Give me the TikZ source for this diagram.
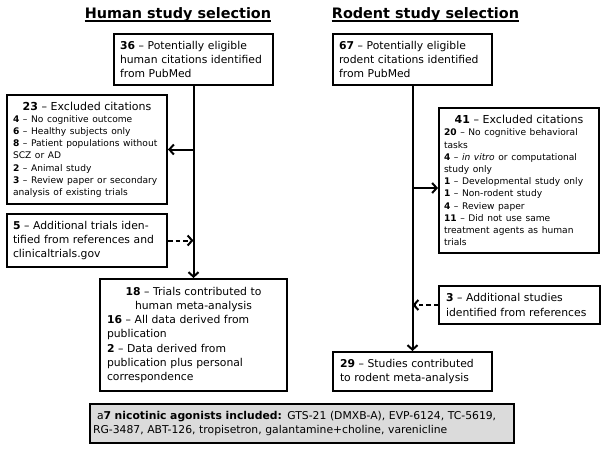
\documentclass[tikz,border=0pt]{standalone}
\usepackage{fontspec}
\setmainfont{DejaVu Sans}
\usetikzlibrary{arrows.meta}
\newcommand{\listsize}{\fontsize{9.1}{12.2}\selectfont}
\newcommand{\headsize}{\fontsize{11}{13.4}\selectfont}
\tikzset{
  box/.style={draw, line width=2pt, anchor=north west, inner xsep=6pt, inner ysep=0pt,
    align=left, font={\fontsize{10.8}{14.2}\selectfont\hyphenpenalty=10000}},
  title/.style={anchor=base, inner sep=0pt, font={\fontsize{14.4}{16}\selectfont\bfseries}},
  arr/.style={line width=2pt, -{Straight Barb[length=4.5pt,width=10pt,line width=2pt]}},
  darr/.style={arr, dash pattern=on 4.5pt off 3pt},
}
\begin{document}
\begin{tikzpicture}[x=1pt,y=-1pt]
\useasboundingbox (0,0) rectangle (604,448);
\node[title] (ht) at (178,18.3) {Human study selection};
\node[title] (rt) at (425.5,18.3) {Rodent study selection};
\draw[line width=1.5pt] ([yshift=-2.8pt]ht.base west) -- ([yshift=-2.8pt]ht.base east);
\draw[line width=1.5pt] ([yshift=-2.8pt]rt.base west) -- ([yshift=-2.8pt]rt.base east);

\node[box, text width=147pt, minimum height=51pt] (h36) at (113,33)
  {\textbf{36} -- Potentially eligible\\human citations identified\\from PubMed};
\node[box, text width=148pt, minimum height=109pt] (h23) at (6,94)
  {{\centering\headsize\textbf{23} -- Excluded citations\par}
   {\listsize\textbf{4} -- No cognitive outcome\\
   \textbf{6} -- Healthy subjects only\\
   \textbf{8} -- Patient populations without\\SCZ or AD\\
   \textbf{2} -- Animal study\\
   \textbf{3} -- Review paper or secondary\\analysis of existing trials\par}};
\node[box, text width=148pt, minimum height=53pt] (h5) at (6,213)
  {\textbf{5} -- Additional trials iden-\\tified from references and\\clinicaltrials.gov};
\node[box, inner xsep=7pt, text width=173pt, minimum height=112pt] (h18) at (99,278)
  {{\centering\textbf{18} -- Trials contributed to\\human meta-analysis\par}
   \textbf{16} -- All data derived from\\publication\\
   \textbf{2} -- Data derived from\\publication plus personal\\correspondence};

\node[box, text width=147pt, minimum height=51pt] (r67) at (332,33)
  {\textbf{67} -- Potentially eligible\\rodent citations identified\\from PubMed};
\node[box, inner xsep=5pt, text width=150pt, minimum height=145pt] (r41) at (438,107)
  {{\centering\headsize\textbf{41} -- Excluded citations\par}
   {\listsize\textbf{20} -- No cognitive behavioral\\tasks\\
   \textbf{4} -- \textit{in vitro} or computational\\study only\\
   \textbf{1} -- Developmental study only\\
   \textbf{1} -- Non-rodent study\\
   \textbf{4} -- Review paper\\
   \textbf{11} -- Did not use same\\treatment agents as human\\trials\par}};
\node[box, inner xsep=7pt, text width=147pt, minimum height=38pt] (r3) at (438,285)
  {\textbf{3} -- Additional studies\\identified from references};
\node[box, inner xsep=7pt, text width=145pt, minimum height=39pt] (r29) at (332,351)
  {\textbf{29} -- Studies contributed\\to rodent meta-analysis};

\node[box, fill=black!14, inner xsep=3pt, text width=418pt, minimum height=39pt,
  font={\fontsize{10.8}{14}\selectfont}] (agents) at (89,403)
  {\hspace*{4pt}a\textbf{7 nicotinic agonists included:} GTS-21 (DMXB-A), EVP-6124, TC-5619,\\
   RG-3487, ABT-126, tropisetron, galantamine+choline, varenicline};

\coordinate (r41in) at ([yshift=-7.5pt]r41.west);
\draw[arr] (h36.south) -- (h18.north);
\draw[arr] (h36.south |- h23.east) -- (h23.east);
\draw[darr] (h5.east) -- (h5.east -| h36.south);
\draw[arr] (r67.south) -- (r29.north);
\draw[arr] (r67.south |- r41in) -- (r41in);
\draw[darr] (r3.west) -- (r3.west -| r67.south);
\end{tikzpicture}
\end{document}
